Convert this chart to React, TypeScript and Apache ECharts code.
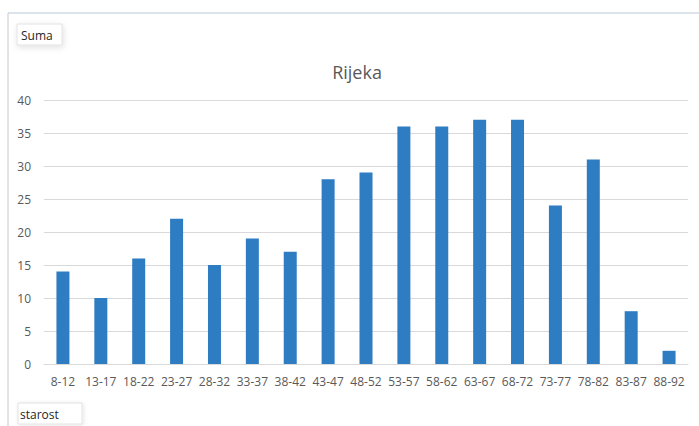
import React, { useEffect, useRef } from "react";
import * as echarts from "echarts";

const categories = ["8-12", "13-17", "18-22", "23-27", "28-32", "33-37", "38-42", "43-47", "48-52", "53-57", "58-62", "63-67", "68-72", "73-77", "78-82", "83-87", "88-92"];
const values = [14, 10, 16, 22, 15, 19, 17, 28, 29, 36, 36, 37, 37, 24, 31, 8, 2];
const chartTitle = "Rijeka";
const valueButton = "Suma";
const axisButton = "starost";

export default function App() {
  const ref = useRef<HTMLDivElement>(null);
  useEffect(() => {
    document.body.style.margin = "0";
    const chart = echarts.init(ref.current!, null, { renderer: "svg" });
    const font = "'Open Sans', 'Noto Sans', sans-serif";
    chart.setOption({
      animation: false,
      backgroundColor: "#ffffff",
      textStyle: { fontFamily: font },
      grid: { left: 44, right: 11, top: 100, bottom: 62, containLabel: false },
      xAxis: {
        type: "category",
        data: categories,
        axisLine: { lineStyle: { color: "#d9d9d9", width: 1 } },
        axisTick: { show: false },
        axisLabel: { color: "#595959", fontSize: 12, margin: 11, interval: 0, fontFamily: font },
      },
      yAxis: {
        type: "value",
        min: 0,
        max: 40,
        interval: 5,
        axisLine: { show: false },
        axisTick: { show: false },
        axisLabel: { color: "#595959", fontSize: 12, margin: 13, fontFamily: font },
        splitLine: { lineStyle: { color: "#d9d9d9", width: 1 } },
      },
      series: [
        {
          type: "bar",
          data: values,
          barWidth: 13,
          itemStyle: { color: "#2e7cc2" },
        },
      ],
      graphic: [
        { type: "line", shape: { x1: 8, y1: 13, x2: 699, y2: 13 }, style: { stroke: "#dde3ea", lineWidth: 2 } },
        { type: "line", shape: { x1: 8, y1: 13, x2: 8, y2: 426 }, style: { stroke: "#c8c8c8", lineWidth: 1 } },
        {
          type: "rect",
          shape: { x: 17, y: 24, width: 45, height: 21 },
          style: { fill: "#ffffff", stroke: "#e2e2e2", lineWidth: 1, shadowBlur: 6, shadowColor: "rgba(0,0,0,0.12)", shadowOffsetX: 1, shadowOffsetY: 2 },
        },
        { type: "text", x: 21, y: 35, style: { text: valueButton, fill: "#262626", fontSize: 12, fontFamily: font, verticalAlign: "middle" } },
        {
          type: "rect",
          shape: { x: 18, y: 403, width: 64, height: 21 },
          style: { fill: "#ffffff", stroke: "#e2e2e2", lineWidth: 1, shadowBlur: 4, shadowColor: "rgba(0,0,0,0.10)", shadowOffsetX: 1, shadowOffsetY: 1 },
        },
        { type: "text", x: 20, y: 414, style: { text: axisButton, fill: "#262626", fontSize: 12, fontFamily: font, verticalAlign: "middle" } },
        { type: "text", x: 357, y: 72, style: { text: chartTitle, fill: "#595959", fontSize: 18, fontFamily: font, align: "center", verticalAlign: "middle" } },
      ],
    });
    return () => chart.dispose();
  }, []);
  return <div ref={ref} style={{ position: "fixed", left: 0, top: 0, width: 699, height: 426 }} />;
}
